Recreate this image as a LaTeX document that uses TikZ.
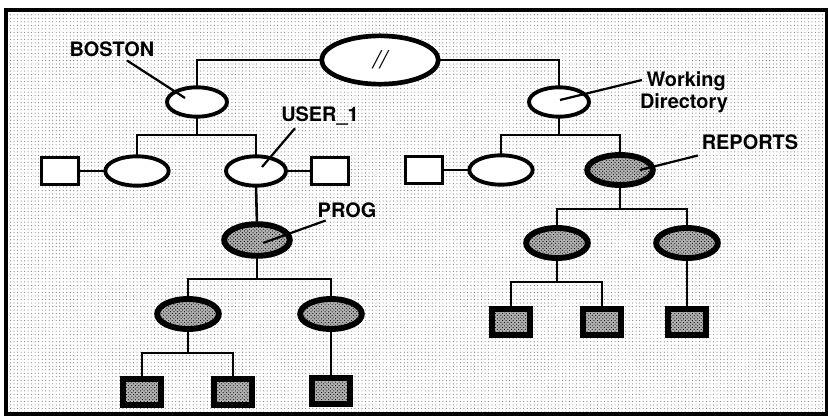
\documentclass[tikz,border=0pt]{standalone}
\usepackage{fontspec}
\setmainfont{TeX Gyre Heros}
\usetikzlibrary{shapes.geometric,patterns,calc}
\tikzset{
  fs diagram/.style={
    x=0.03cm, y=-0.03cm,
    every node/.style={font=\fontsize{17}{19}\selectfont\bfseries,
      text=black, inner sep=0pt, outer sep=0pt}
  },
  fs frame/.style={draw=black, line width=2.6pt, pattern=dots,
    pattern color=black!50},
  fs link/.style={draw=black, line width=2.2pt},
  fs leader/.style={draw=black, line width=1.9pt},
  fs dir/.style={ellipse, draw=black, fill=white, line width=3.3pt,
    minimum width=1.8cm, minimum height=0.88cm},
  fs marked dir/.style={ellipse, draw=black, line width=5pt,
    preaction={fill=black!30}, pattern=crosshatch dots, pattern color=black,
    minimum width=1.85cm, minimum height=0.9cm},
  fs file/.style={rectangle, draw=black, fill=white, line width=3pt,
    minimum width=1.1cm, minimum height=0.8cm},
  fs marked file/.style={rectangle, draw=black, line width=4.6pt,
    preaction={fill=black!30}, pattern=crosshatch dots, pattern color=black,
    minimum width=1.15cm, minimum height=0.77cm}
}

\begin{document}
\begin{tikzpicture}[fs diagram]
    \useasboundingbox (0,0) rectangle (828,419);
    \draw[fs frame] (6,10) rectangle (827,414);

    % directory tree
    \node[fs dir, line width=4pt, minimum width=3.5cm, minimum height=1.45cm]
      (root) at (380,60) {\fontsize{21}{23}\selectfont\mdseries\itshape //};
    \node[fs dir] (boston) at (197,102) {};
    \node[fs dir] (wd) at (559,102) {};
    \node[fs file] (fileA) at (60,171) {};
    \node[fs dir, minimum width=1.9cm] (dirA) at (137,171) {};
    \node[fs dir] (user1) at (256,171) {};
    \node[fs file] (fileB) at (330,171) {};
    \node[fs file] (fileC) at (424,170) {};
    \node[fs dir, minimum width=1.9cm] (dirB) at (501,170) {};
    \node[fs marked dir, minimum width=1.97cm] (reports) at (620,170) {};
    \node[fs marked dir, minimum width=1.97cm, minimum height=0.95cm]
      (prog) at (257,240) {};
    \node[fs marked dir] (progL) at (188,314) {};
    \node[fs marked dir] (progR) at (331,314) {};
    \node[fs marked file] (pf1) at (142,392) {};
    \node[fs marked file] (pf2) at (233,392) {};
    \node[fs marked file] (pf3) at (331,391) {};
    \node[fs marked dir] (repL) at (557,243) {};
    \node[fs marked dir] (repR) at (687,243) {};
    \node[fs marked file] (rf1) at (511,322) {};
    \node[fs marked file] (rf2) at (602,322) {};
    \node[fs marked file] (rf3) at (687,322) {};

    \coordinate (bostonJ) at (197,135);
    \coordinate (wdJ) at (559,135);
    \coordinate (progJ) at (257,279);
    \coordinate (progLJ) at (188,353);
    \coordinate (repJ) at (620,209);
    \coordinate (repLJ) at (557,282);

    \draw[fs link] (root.west) -| (boston.north);
    \draw[fs link] (root.east) -| (wd.north);
    \draw[fs link] (boston.south) -- (bostonJ) -| (dirA.north);
    \draw[fs link] (bostonJ) -| (user1.north);
    \draw[fs link] (wd.south) -- (wdJ) -| (dirB.north);
    \draw[fs link] (wdJ) -| (reports.north);
    \draw[fs link] (fileA.east) -- (dirA.west);
    \draw[fs link] (user1.east) -- (fileB.west);
    \draw[fs link] (fileC.east) -- (dirB.west);
    \draw[fs link] (user1.south) -- (prog.north);
    \draw[fs link] (prog.south) -- (progJ) -| (progL.north);
    \draw[fs link] (progJ) -| (progR.north);
    \draw[fs link] (progL.south) -- (progLJ) -| (pf1.north);
    \draw[fs link] (progLJ) -| (pf2.north);
    \draw[fs link] (progR.south) -- (pf3.north);
    \draw[fs link] (reports.south) -- (repJ) -| (repL.north);
    \draw[fs link] (repJ) -| (repR.north);
    \draw[fs link] (repL.south) -- (repLJ) -| (rf1.north);
    \draw[fs link] (repLJ) -| (rf2.north);
    \draw[fs link] (repR.south) -- (rf3.north);

    % labels with leaders
    \node (bostonLbl) at (112,49) {BOSTON};
    \node (user1Lbl) at (320,116) {USER\_1};
    \node (progLbl) at (347,210) {PROG};
    \node (reportsLbl) at (750,142) {REPORTS};
    \node[anchor=west, align=left] (wdLbl) at (640,92) {\hspace{0.2cm}Working\\Directory};
    \coordinate (bostonTip) at (185,98);
    \coordinate (user1Tip) at (262,167);
    \coordinate (progTip) at (263,243);
    \coordinate (reportsTip) at (640,170);
    \coordinate (wdTip) at (560,100);
    \draw[fs leader] ($(bostonLbl.south)+(15,4)$) -- (bostonTip);
    \draw[fs leader] ($(user1Lbl.south)+(-25,3)$) -- (user1Tip);
    \draw[fs leader] ($(progLbl.south west)+(8,3)$) -- (progTip);
    \draw[fs leader] ($(reportsLbl.south west)+(-4,6)$) -- (reportsTip);
    \draw[fs leader] ($(wdLbl.west)+(2,-12)$) -- (wdTip);
\end{tikzpicture}
\end{document}
